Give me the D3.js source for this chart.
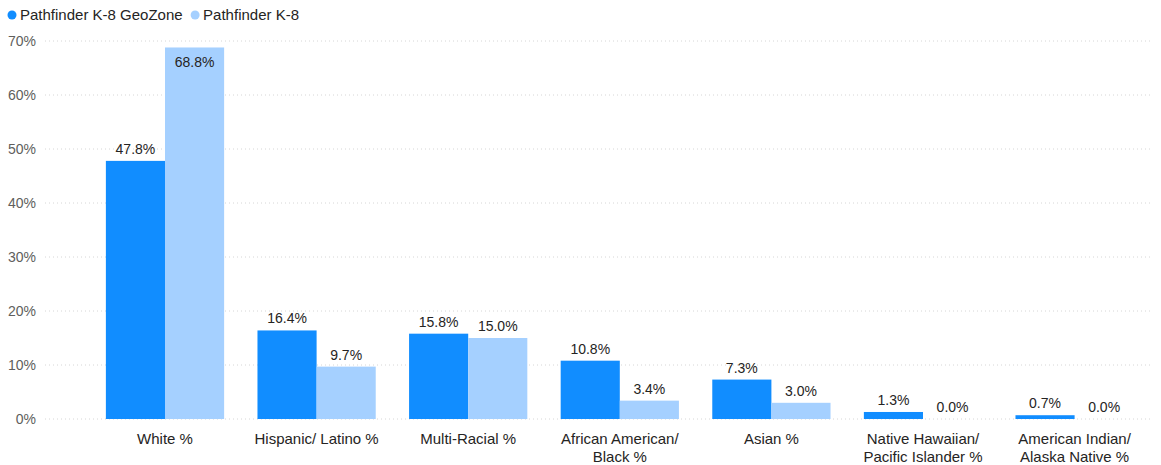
<!DOCTYPE html>
<html>
<head>
<meta charset="utf-8">
<script src="https://cdn.jsdelivr.net/npm/d3@7"></script>
<style>
  body { margin: 0; background: #fff; }
  text { font-family: "Liberation Sans", Arial, sans-serif; }
</style>
</head>
<body>
<svg id="chart"></svg>
<script>
const categories = [
  ["White %"],
  ["Hispanic/ Latino %"],
  ["Multi-Racial %"],
  ["African American/", "Black %"],
  ["Asian %"],
  ["Native Hawaiian/", "Pacific Islander %"],
  ["American Indian/", "Alaska Native %"]
];
const seriesNames = ["Pathfinder K-8 GeoZone", "Pathfinder K-8"];
const geoZone = [47.8, 16.4, 15.8, 10.8, 7.3, 1.3, 0.7];
const k8 = [68.8, 9.7, 15.0, 3.4, 3.0, 0.0, 0.0];
const yTicks = [0, 10, 20, 30, 40, 50, 60, 70];
const colors = ["#118DFF", "#A5D0FF"];

const width = 1161, height = 465;
const svg = d3.select("#chart").attr("width", width).attr("height", height);

const x = d3.scaleBand().domain(d3.range(categories.length)).range([89.2, 1150.4]).paddingInner(0.22).paddingOuter(0.11);
const x1 = d3.scaleBand().domain([0, 1]).range([0, x.bandwidth()]);
const y = d3.scaleLinear().domain([0, 70]).range([419, 41]);

// gridlines
svg.append("g").selectAll("line").data(yTicks).enter().append("line")
  .attr("x1", 45).attr("x2", 1150)
  .attr("y1", d => y(d)).attr("y2", d => y(d))
  .attr("stroke", "#d6d6d6").attr("stroke-dasharray", "1,3");

// y tick labels
svg.append("g").selectAll("text").data(yTicks).enter().append("text")
  .attr("x", 36).attr("y", d => y(d)).attr("dy", "0.35em")
  .attr("text-anchor", "end").attr("fill", "#605E5C").style("font-size", "14px")
  .text(d => d + "%");

const rows = categories.map((c, i) => [geoZone[i], k8[i]]);
const groups = svg.append("g").selectAll("g").data(rows).enter().append("g")
  .attr("transform", (d, i) => `translate(${x(i)},0)`);

groups.selectAll("rect").data(d => d).enter().append("rect")
  .attr("x", (d, j) => x1(j)).attr("width", x1.bandwidth())
  .attr("y", d => y(d)).attr("height", d => y(0) - y(d))
  .attr("fill", (d, j) => colors[j]);

// data labels: inside the bar when there is no room above it
groups.selectAll("text").data(d => d).enter().append("text")
  .attr("x", (d, j) => x1(j) + x1.bandwidth() / 2)
  .attr("y", d => y(d) - 20 < y(70) ? y(d) + 20 : y(d) - 7)
  .attr("text-anchor", "middle").attr("fill", "#252423").style("font-size", "14px")
  .text(d => d.toFixed(1) + "%");

// x axis labels
const xl = svg.append("g").selectAll("text").data(categories).enter().append("text")
  .attr("x", (d, i) => x(i) + x.bandwidth() / 2).attr("y", 444)
  .attr("text-anchor", "middle").attr("fill", "#252423").style("font-size", "15px");
xl.selectAll("tspan").data(d => d).enter().append("tspan")
  .attr("x", function() { return this.parentNode.getAttribute("x"); })
  .attr("dy", (d, k) => k === 0 ? 0 : 17.5)
  .text(d => d);

// legend
const legend = svg.append("g");
let lx = 7.5;
seriesNames.forEach((name, i) => {
  legend.append("circle").attr("cx", lx + 4.5).attr("cy", 15).attr("r", 4.5).attr("fill", colors[i]);
  const t = legend.append("text").attr("x", lx + 12.5).attr("y", 15).attr("dy", "0.35em")
    .attr("fill", "#252423").style("font-size", "15px").text(name);
  lx += 12.5 + t.node().getComputedTextLength() + 8;
});
</script>
</body>
</html>
